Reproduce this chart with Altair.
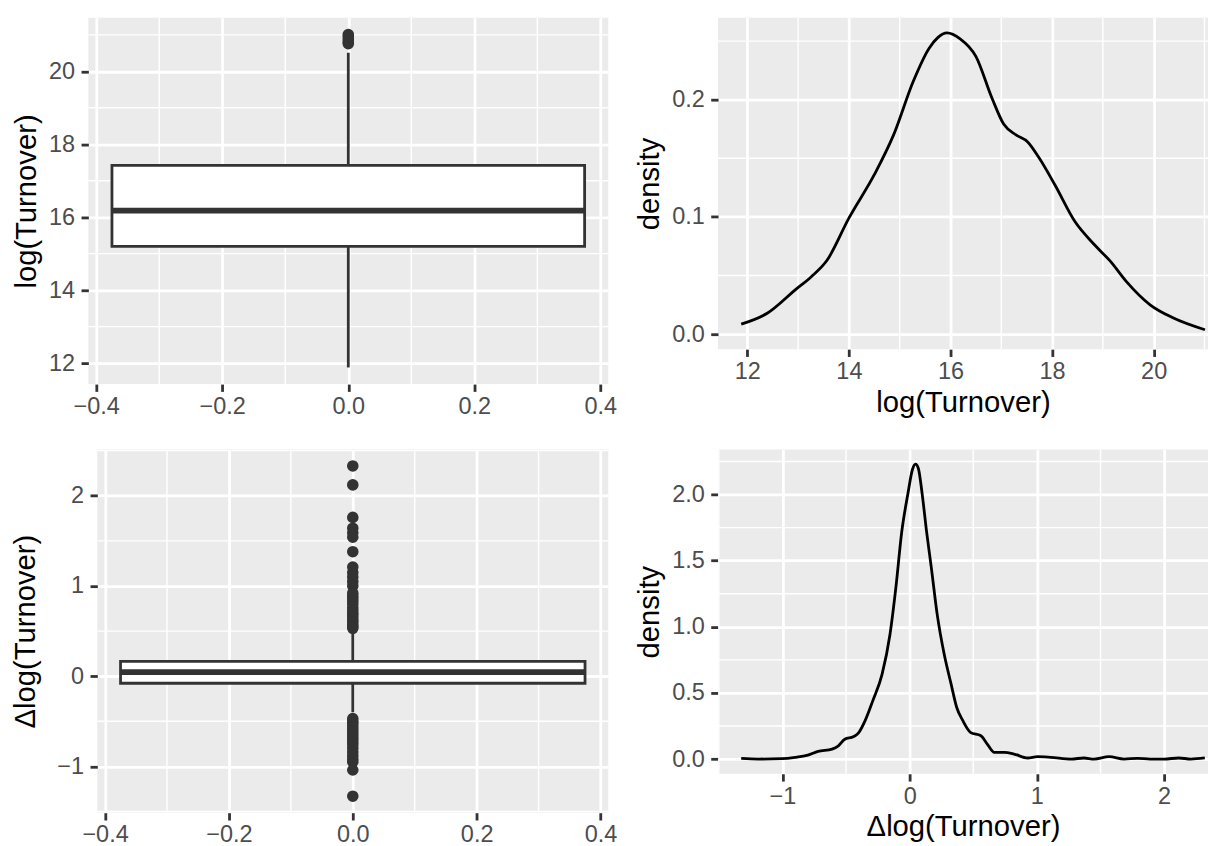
import altair as alt
import pandas as pd

FONT = "Liberation Sans"
BG = "#EBEBEB"
DARK = "#333333"
LABEL = "#4D4D4D"

# ---------------- data ----------------
box_center = 0.0
box_left = -0.375
box_right = 0.375
box_x_ticks = [-0.4, -0.2, 0.0, 0.2, 0.4]
box_x_minor = [-0.3, -0.1, 0.1, 0.3]

# log(Turnover) boxplot
lt_q1, lt_med, lt_q3 = 15.20, 16.18, 17.42
lt_whisk_lo, lt_whisk_hi = 11.88, 20.51
lt_outliers = [20.76, 20.80, 20.87, 20.95, 21.01]
lt_y_ticks = [12, 14, 16, 18, 20]
lt_y_minor = [13, 15, 17, 19, 21]

# log(Turnover) density
dlt_x = [11.88, 12.40, 12.95, 13.26, 13.57, 14.0, 14.5, 14.88, 15.27, 15.58,
         15.75, 15.93, 16.19, 16.5, 16.82, 17.05, 17.29, 17.52, 17.75, 18.06,
         18.45, 18.84, 19.15, 19.46, 19.93, 20.39, 21.01]
dlt_y = [0.0085, 0.018, 0.038, 0.049, 0.063, 0.099, 0.136, 0.170, 0.216, 0.244,
         0.253, 0.257, 0.252, 0.237, 0.201, 0.179, 0.170, 0.164, 0.150, 0.127,
         0.096, 0.076, 0.062, 0.045, 0.025, 0.0137, 0.0037]
dlt_x_ticks = [12, 14, 16, 18, 20]
dlt_x_minor = [13, 15, 17, 19, 21]
dlt_y_ticks = [0.0, 0.1, 0.2]
dlt_y_minor = [0.05, 0.15, 0.25]

# Δlog(Turnover) boxplot
dl_q1, dl_med, dl_q3 = -0.078, 0.045, 0.165
dl_whisk_lo, dl_whisk_hi = -0.40, 0.50
dl_outliers = [2.33, 2.12, 1.76, 1.64, 1.59, 1.54, 1.38, 1.21, 1.15, 1.10, 1.05, 1.0,
               0.92, 0.89, 0.86, 0.83, 0.80, 0.76, 0.73, 0.70, 0.68, 0.65, 0.62,
               0.60, 0.57, 0.55, 0.53,
               -0.47, -0.50, -0.52, -0.55, -0.58, -0.61, -0.64, -0.67, -0.70,
               -0.73, -0.76, -0.80, -0.84, -0.88, -0.92, -0.95, -1.04, -1.33]
dl_y_ticks = [-1, 0, 1, 2]
dl_y_minor = [-1.5, -0.5, 0.5, 1.5, 2.5]

# Δlog(Turnover) density
ddl_x = [-1.324, -1.19, -1.005, -0.90, -0.80, -0.72, -0.61, -0.56, -0.51, -0.44,
         -0.40, -0.35, -0.29, -0.217, -0.155, -0.108, -0.062, -0.015, 0.022, 0.046,
         0.068, 0.099, 0.133, 0.17, 0.217, 0.272, 0.325, 0.37, 0.418, 0.48,
         0.56, 0.61, 0.666, 0.744, 0.82, 0.927, 1.005, 1.11, 1.27, 1.37,
         1.45, 1.567, 1.685, 1.79, 1.89, 2.0, 2.115, 2.21, 2.32]
ddl_y = [0.005, 0.0, 0.003, 0.013, 0.03, 0.058, 0.075, 0.10, 0.15, 0.17,
         0.20, 0.29, 0.44, 0.64, 0.94, 1.30, 1.72, 2.0, 2.19, 2.23,
         2.20, 2.0, 1.72, 1.45, 1.09, 0.79, 0.57, 0.39, 0.29, 0.20,
         0.176, 0.113, 0.05, 0.05, 0.038, 0.008, 0.018, 0.013, 0.0, 0.008,
         0.0, 0.018, 0.0, 0.005, 0.0, 0.0, 0.008, 0.0, 0.008]
ddl_x_ticks = [-1, 0, 1, 2]
ddl_x_minor = [-1.5, -0.5, 0.5, 1.5]
ddl_y_ticks = [0.0, 0.5, 1.0, 1.5, 2.0]
ddl_y_minor = [0.25, 0.75, 1.25, 1.75, 2.25]

LW = 2.8
TICK = 7.3
XLABEL_PAD = 3.0
YLABEL_PAD = 6.5
XTITLE_PAD = 5.3
YTITLE_PAD = 7.3
LABEL_FS = 23.5
TITLE_FS = 29.3


def expand(lo, hi, frac=0.05):
    r = hi - lo
    return [lo - frac * r, hi + frac * r]


def axis(values, title, fmt, label_pad, title_pad):
    return alt.Axis(
        values=values, title=title, grid=True, gridColor="white", gridWidth=LW,
        domain=False, ticks=True, tickColor=DARK, tickWidth=LW, tickSize=TICK,
        labelColor=LABEL, labelFontSize=LABEL_FS, labelFont=FONT, labelPadding=label_pad,
        labelFlush=False, labelOverlap=False,
        labelExpr="replace(format(datum.value, '%s'), '-', '\u2212')" % fmt,
        titleFont=FONT, titleFontSize=TITLE_FS, titleColor="black",
        titleFontWeight="normal", titlePadding=title_pad,
    )


def minor_rules(vals, channel, scale, ax):
    df = pd.DataFrame({"m": vals})
    if channel == "x":
        enc = {"x": alt.X("m:Q", scale=scale, axis=ax)}
    else:
        enc = {"y": alt.Y("m:Q", scale=scale, axis=ax)}
    return alt.Chart(df).mark_rule(color="white", strokeWidth=LW / 2).encode(**enc)


def boxplot(q1, med, q3, wlo, whi, outliers, ydom, yticks, yminor, ytitle,
            yfmt, width, height, ytitle_pad=YTITLE_PAD):
    sx = alt.Scale(domain=expand(box_left, box_right), nice=False, zero=False)
    sy = alt.Scale(domain=ydom, nice=False, zero=False)
    ax = axis(box_x_ticks, None, ".1f", XLABEL_PAD, XTITLE_PAD)
    ay = axis(yticks, ytitle, yfmt, YLABEL_PAD, ytitle_pad)

    mx = minor_rules(box_x_minor, "x", sx, ax)
    my = minor_rules(yminor, "y", sy, ay)

    whisk = pd.DataFrame({"x": [box_center, box_center], "lo": [q3, wlo], "hi": [whi, q1]})
    w = alt.Chart(whisk).mark_rule(color=DARK, strokeWidth=LW).encode(
        x=alt.X("x:Q", scale=sx, axis=ax),
        y=alt.Y("lo:Q", scale=sy, axis=ay), y2="hi:Q")

    box = pd.DataFrame({"l": [box_left], "r": [box_right], "q1": [q1], "q3": [q3], "med": [med]})
    b = alt.Chart(box).mark_rect(fill="white", stroke=DARK, strokeWidth=LW).encode(
        x=alt.X("l:Q", scale=sx, axis=ax), x2="r:Q",
        y=alt.Y("q1:Q", scale=sy, axis=ay), y2="q3:Q")
    m = alt.Chart(box).mark_rule(color=DARK, strokeWidth=2 * LW).encode(
        x=alt.X("l:Q", scale=sx, axis=ax), x2="r:Q",
        y=alt.Y("med:Q", scale=sy, axis=ay))

    out = pd.DataFrame({"x": [box_center] * len(outliers), "v": outliers})
    o = alt.Chart(out).mark_circle(size=135, color=DARK, opacity=1).encode(
        x=alt.X("x:Q", scale=sx, axis=ax),
        y=alt.Y("v:Q", scale=sy, axis=ay))

    return alt.layer(mx, my, w, o, b, m).properties(width=width, height=height)


def density(xs, ys, xdom, ydom, xticks, xminor, yticks, yminor, xtitle,
            xfmt, yfmt, width, height):
    sx = alt.Scale(domain=xdom, nice=False, zero=False)
    sy = alt.Scale(domain=ydom, nice=False, zero=False)
    ax = axis(xticks, xtitle, xfmt, XLABEL_PAD, XTITLE_PAD)
    ay = axis(yticks, "density", yfmt, YLABEL_PAD, YTITLE_PAD)
    mx = minor_rules(xminor, "x", sx, ax)
    my = minor_rules(yminor, "y", sy, ay)
    df = pd.DataFrame({"x": xs, "d": ys})
    line = alt.Chart(df).mark_line(color="black", strokeWidth=LW,
                                   interpolate="monotone").encode(
        x=alt.X("x:Q", scale=sx, axis=ax),
        y=alt.Y("d:Q", scale=sy, axis=ay))
    return alt.layer(mx, my, line).properties(width=width, height=height)


def spacer(w):
    return alt.Chart(pd.DataFrame({"s": [0]})).mark_rect(opacity=0).encode(
        x=alt.value(0), x2=alt.value(1), y=alt.value(0), y2=alt.value(1)
    ).properties(width=w, height=1,
                 view=alt.ViewBackground(fill="transparent", strokeWidth=0))


tl = boxplot(lt_q1, lt_med, lt_q3, lt_whisk_lo, lt_whisk_hi, lt_outliers,
             expand(min(lt_whisk_lo, min(lt_outliers)), max(lt_outliers)),
             lt_y_ticks, lt_y_minor, "log(Turnover)", "d", 521, 367)

dlt_xdom = expand(min(dlt_x), max(dlt_x))
tr = density(dlt_x, dlt_y, [dlt_xdom[0], 21.07], expand(0, max(dlt_y)),
             dlt_x_ticks, dlt_x_minor, dlt_y_ticks, dlt_y_minor,
             "log(Turnover)", "d", ".1f", 491, 332)

bl = boxplot(dl_q1, dl_med, dl_q3, dl_whisk_lo, dl_whisk_hi, dl_outliers,
             expand(min(dl_outliers), max(dl_outliers)),
             dl_y_ticks, dl_y_minor, "\u0394log(Turnover)", "d", 512, 364,
             ytitle_pad=YTITLE_PAD + 9)

ddl_xdom = expand(min(ddl_x), max(ddl_x))
br = density(ddl_x, ddl_y, [ddl_xdom[0], 2.345], expand(0, max(ddl_y)),
             ddl_x_ticks, ddl_x_minor, ddl_y_ticks, ddl_y_minor,
             "\u0394log(Turnover)", "d", ".1f", 491, 325)

row1 = alt.hconcat(spacer(1), tl, spacer(17.6), tr, spacing=0)
row2 = alt.hconcat(spacer(1), bl, spacer(17.6), br, spacing=0)

chart = alt.vconcat(row1, row2, spacing=30.5).properties(
    padding={"left": 2.5, "top": 8, "right": 0, "bottom": 0},
    background="white",
).configure_view(fill=BG, strokeWidth=0)

chart.save("out.html", embed_options={"renderer": "svg", "actions": False})
